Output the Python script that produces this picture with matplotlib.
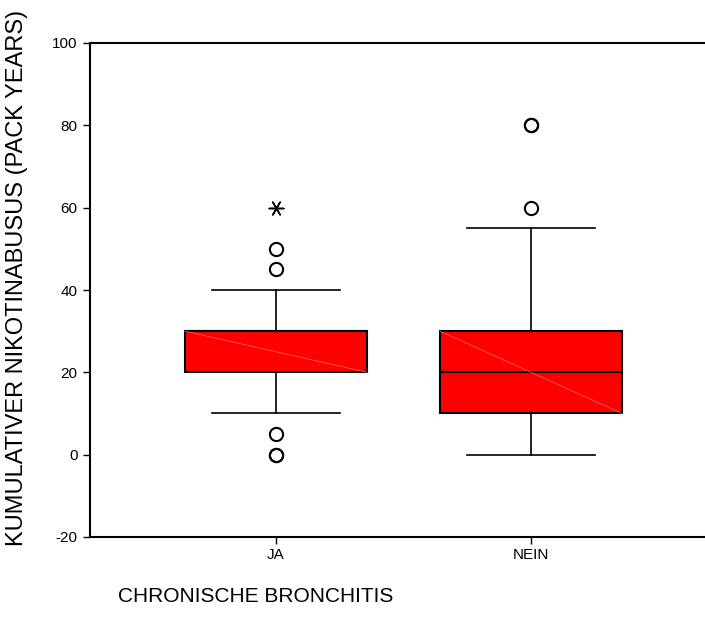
import matplotlib
matplotlib.use('Agg')
import matplotlib.pyplot as plt

plt.rcParams['font.family'] = ['Liberation Sans', 'DejaVu Sans']
plt.rcParams['axes.unicode_minus'] = False

categories = ['JA', 'NEIN']
q1 = [20, 10]
medians = [30, 20]
q3 = [30, 30]
whislo = [10, 0]
whishi = [40, 55]
outliers = [[50, 45, 5, 0, 0], [80, 80, 60]]
extremes = [[60], []]

yticks = [-20, 0, 20, 40, 60, 80, 100]


def makeStats():
    stats = []
    for i in range(len(categories)):
        stats.append({
            'label': categories[i],
            'q1': q1[i], 'med': medians[i], 'q3': q3[i],
            'whislo': whislo[i], 'whishi': whishi[i],
            'fliers': outliers[i],
        })
    return stats


fig = plt.figure(figsize=(7.05, 6.21), dpi=100)
ax = fig.add_axes([90 / 705, 1 - 537 / 621, 1 - 90 / 705, (537 - 43) / 621])

positions = [1, 2]
boxWidth = 0.714
ax.bxp(makeStats(), positions=positions, widths=boxWidth, patch_artist=True,
       boxprops=dict(facecolor='#ff0000', edgecolor='black', linewidth=1.5),
       medianprops=dict(color='black', linewidth=1.5),
       whiskerprops=dict(color='black', linewidth=1.2),
       capprops=dict(color='black', linewidth=1.2),
       capwidths=0.5,
       flierprops=dict(marker='o', markersize=9.5, markerfacecolor='none',
                       markeredgecolor='black', markeredgewidth=1.5, linestyle='none'))

# faint diagonal line across each box
for i, p in enumerate(positions):
    ax.plot([p - boxWidth / 2, p + boxWidth / 2], [q3[i], q1[i]], color='#ff7070', lw=0.5, zorder=3)

# extreme values drawn as stars
for i, p in enumerate(positions):
    if extremes[i]:
        ax.scatter([p] * len(extremes[i]), extremes[i], marker=(6, 2, 90), s=110, color='black', linewidths=1.1, zorder=4)

ax.set_xlim(0.271, 2.682)
ax.set_ylim(-20, 100)
ax.set_yticks(yticks)
ax.set_xticks(positions)
ax.set_xticklabels(categories)
ax.spines['right'].set_visible(False)
for s in ['left', 'bottom', 'top']:
    ax.spines[s].set_linewidth(1.5)
ax.tick_params(axis='both', direction='out', length=5, width=1, labelsize=11)
ax.tick_params(axis='y', pad=4)
ax.tick_params(axis='x', pad=3)

fig.text(17 / 705, 1 - 278 / 621, 'KUMULATIVER NIKOTINABUSUS (PACK YEARS)', fontsize=17,
         rotation=90, ha='center', va='center')
fig.text(118 / 705, 1 - 597 / 621, 'CHRONISCHE BRONCHITIS', fontsize=15, ha='left', va='center')

fig.savefig('out.png', dpi=100)
